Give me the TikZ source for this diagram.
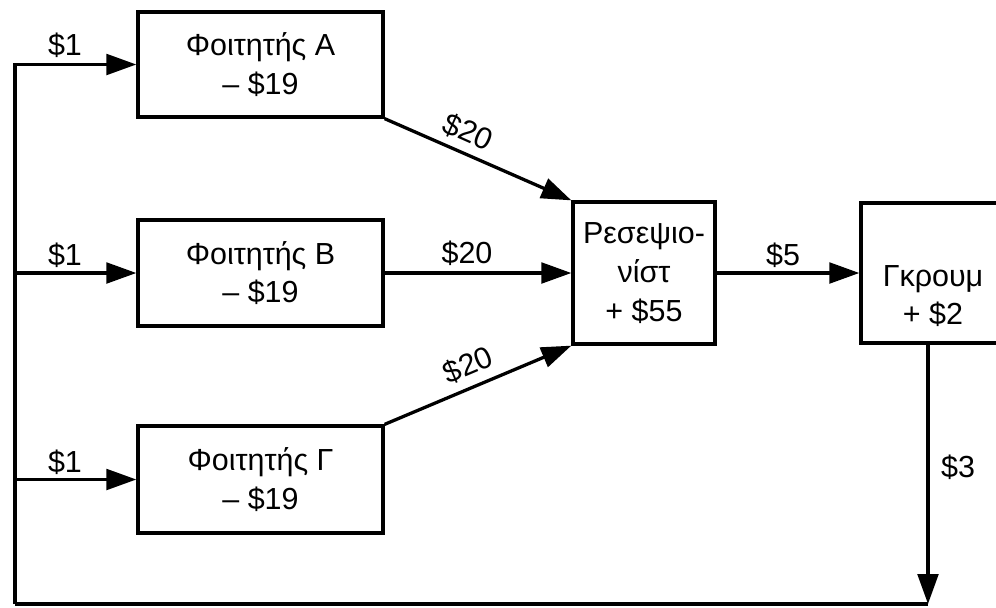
\documentclass[tikz,border=0pt]{standalone}
\usepackage{fontspec}
\setmainfont{Liberation Sans}
\usetikzlibrary{arrows.meta}
\begin{document}
\begin{tikzpicture}[x=0.03cm,y=-0.03cm,
  every node/.style={font=\fontsize{26}{33}\selectfont},
  box/.style={draw,line width=2.8pt,inner sep=0pt,align=center},
  arr/.style={line width=2.8pt,-{Triangle[length=0.9cm,width=0.62cm]}},
  ln/.style={line width=2.8pt},
  lab/.style={inner sep=0pt}]
\useasboundingbox (0,0) rectangle (996,607);
\node[box,minimum width=245*0.03cm,minimum height=105*0.03cm] (A) at (260.5,64.5) {Φοιτητής A\\– \$19};
\node[box,minimum width=245*0.03cm,minimum height=106*0.03cm] (B) at (260.5,273) {Φοιτητής B\\– \$19};
\node[box,minimum width=245*0.03cm,minimum height=107*0.03cm] (C) at (260.5,479.5) {Φοιτητής Γ\\– \$19};
\node[box,minimum width=142*0.03cm,minimum height=142*0.03cm] (R) at (644,273) {Ρεσεψιο-\\νίστ\\+ \$55};
\node[box,minimum width=180*0.03cm,minimum height=140*0.03cm] (G) at (951,273) {};
\node[lab,align=center] (Gt) at (933,296) {Γκρουμ\\+ \$2};
\coordinate (gb) at (928,604);
\coordinate (bl) at (15,604);
\draw[arr] (G.south -| gb) -- (gb);
\draw[ln] (gb) -- (bl);
\draw[arr] (bl) |- (A.west);
\draw[arr] (B.west -| bl) -- (B.west);
\draw[arr] (C.west -| bl) -- (C.west);
\draw[arr] (A.south east) -- (R.north west);
\draw[arr] (B.east) -- (R.west);
\draw[arr] (C.north east) -- (R.south west);
\draw[arr] (R.east) -- (G.west);
\node[lab] (l1) at (65,45) {\$1};
\node[lab] (l2) at (65,255) {\$1};
\node[lab] (l3) at (65,462) {\$1};
\node[lab,rotate=-24] (l4) at (468,132) {\$20};
\node[lab] (l5) at (467,253) {\$20};
\node[lab,rotate=23] (l6) at (468,365) {\$20};
\node[lab] (l7) at (783,255) {\$5};
\node[lab] (l8) at (958,467) {\$3};
\end{tikzpicture}
\end{document}
